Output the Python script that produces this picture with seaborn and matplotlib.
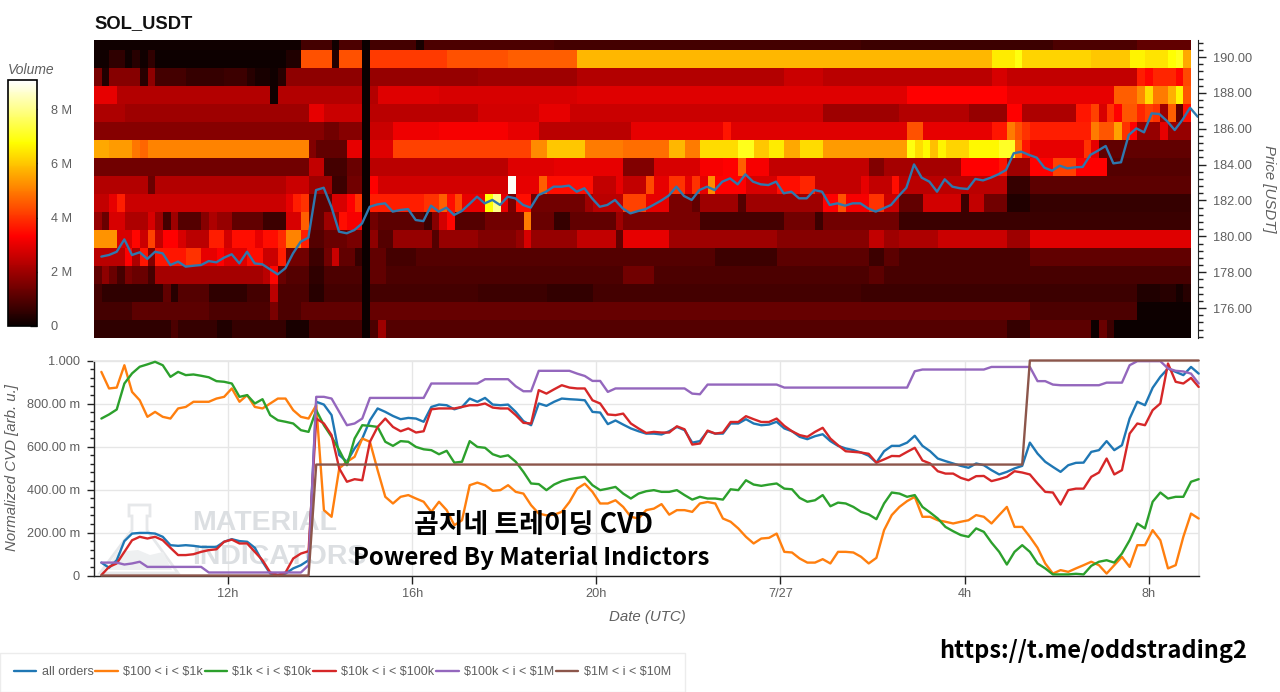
import numpy as np
import pandas as pd
import seaborn as sns
import matplotlib
matplotlib.use("Agg")
import matplotlib.pyplot as plt
from matplotlib.patches import Polygon
from matplotlib.ticker import MultipleLocator

# volume per price level: (last column, exclusive; volume in M)
row_190_9 = [(27, .1), (31, .8), (32, .1), (35, .9), (36, 0), (42, .8), (43, .2), (60, .9), (100, .8), (125, .7), (136, .9), (143, 1.2)]
row_189_9 = [(2, .1), (4, .5), (5, .1), (6, .4), (7, .1), (8, .5), (25, .05), (27, .3), (31, 4.4), (32, .3), (35, 4.4), (36, 0), (46, 4.1),
             (54, 4.4), (63, 4.6), (117, 5.8), (120, 6.5), (121, 6.9), (130, 6.2), (135, 6.0), (137, 6.6), (140, 6.4), (141, 6.8), (142, 7.0), (143, 5.6)]
row_188_9 = [(1, 1.5), (2, .3), (6, 1.7), (7, .4), (8, 1.8), (12, .8), (17, .6), (20, .7), (21, .4), (23, .2), (24, .1), (25, .4), (35, 1.8), (36, 0),
             (50, 1.9), (63, 2.0), (90, 2.3), (95, 2.6), (117, 2.4), (119, 2.8), (136, 2.5), (137, 3.7), (138, 3.4), (141, 3.8), (142, 3.4), (143, 4.3)]
row_187_9 = [(3, 3.0), (23, 2.3), (24, .1), (35, 2.3), (36, 0), (37, 2.3), (45, 2.9), (63, 2.8), (106, 2.9), (119, 3.3), (133, 3.0), (136, 4.6),
             (137, 5.2), (138, 6.3), (140, 5.0), (141, 5.7), (142, 6.6), (143, 4.5)]
row_186_9 = [(4, 2.2), (28, 2.0), (30, 3.0), (35, 2.6), (36, 0), (50, 2.4), (58, 2.7), (62, 3.0), (95, 2.6), (105, 2.0), (114, 2.3), (119, 1.9),
             (121, 3.3), (128, 2.2), (130, 3.6), (131, 4.2), (132, 2.8), (133, 4.0), (134, 3.3), (136, 4.5), (137, 3.8), (138, 4.2), (139, 4.0),
             (140, 2.0), (141, 4.6), (142, 1.2), (143, 3.5)]
row_185_9 = [(30, 1.7), (32, 1.4), (35, 1.7), (36, 0), (39, 2.6), (45, 3.1), (54, 3.2), (58, 3.0), (70, 2.4), (82, 3.0), (83, 3.6), (106, 2.9),
             (108, 4.4), (117, 3.0), (119, 3.6), (120, 5.0), (121, 4.4), (122, 4.0), (130, 3.7), (131, 5.0), (133, 4.5), (134, 5.5), (135, 4.0),
             (136, 3.3), (139, 1.9), (140, 3.0), (143, 1.9)]
row_184_9 = [(2, 5.6), (5, 5.4), (6, 4.9), (7, 4.7), (28, 5.1), (29, 1.6), (33, 1.2), (35, 3.0), (36, 0), (39, 2.9), (57, 4.2), (59, 5.2), (64, 6.0),
             (69, 5.0), (75, 4.8), (77, 5.8), (79, 5.0), (84, 6.3), (86, 7.0), (88, 6.0), (90, 6.5), (92, 5.6), (95, 6.3), (106, 5.4), (107, 6.9),
             (108, 6.3), (109, 6.7), (110, 5.9), (111, 6.6), (114, 6.2), (118, 6.7), (120, 7.1), (121, 4.8), (122, 3.6), (129, 3.0), (130, 4.0),
             (131, 3.0), (143, 1.2)]
row_183_9 = [(28, 1.4), (30, 2.5), (33, .8), (35, 1.3), (36, 0), (54, 2.4), (60, 2.9), (69, 3.0), (73, 1.6), (79, 2.8), (82, 3.2), (84, 3.3), (85, 4.6),
             (88, 3.2), (101, 2.5), (103, 1.6), (113, 2.1), (118, 3.3), (119, 3.6), (122, 2.0), (125, 3.3), (128, 4.2), (132, 3.3), (143, 1.0)]
row_182_9 = [(7, 2.3), (8, 1.3), (25, 2.3), (28, 2.6), (31, 2.0), (33, .7), (35, 1.4), (36, 0), (37, 3.3), (54, 2.7), (55, 9.0), (58, 3.0), (59, 4.6),
             (65, 3.5), (68, 2.5), (69, 3.0), (72, 2.5), (73, 4.3), (75, 3.0), (77, 4.0), (78, 3.0), (79, 4.0), (80, 3.0), (81, 5.2), (85, 3.3),
             (89, 2.8), (92, 3.5), (94, 3.8), (100, 2.5), (101, 3.0), (104, 2.5), (105, 3.5), (119, 2.4), (122, .6), (143, 1.1)]
row_181_9 = [(2, 2.5), (3, 3.0), (4, 3.7), (25, 2.6), (26, 3.0), (27, 3.7), (28, 4.0), (31, 1.2), (33, 2.8), (34, 3.3), (35, 4.0), (36, 0), (43, 3.7),
             (45, 4.0), (46, 4.6), (47, 3.5), (48, 4.3), (51, 3.0), (52, 6.8), (53, 8.0), (54, 3.0), (55, 1.5), (57, 3.5), (64, 1.4), (65, 2.0),
             (69, 2.4), (72, 4.2), (75, 3.0), (78, 1.5), (79, 1.2), (84, 2.0), (85, 1.0), (95, 2.0), (97, 3.3), (98, 4.4), (101, 3.2), (103, 4.0),
             (105, 2.6), (108, 1.2), (113, 2.7), (114, .7), (116, 2.5), (119, 1.4), (122, .3), (143, .6)]
row_180_9 = [(1, 1.9), (2, 1.3), (4, 2.8), (7, 2.2), (8, 2.8), (9, 2.0), (10, .8), (11, 2.0), (14, 1.0), (15, 1.7), (16, 2.2), (18, 1.9), (22, 1.2),
             (25, .7), (27, 2.8), (28, 4.6), (30, 1.2), (32, 2.0), (33, 3.5), (35, 3.2), (36, 0), (37, 1.4), (43, 1.1), (44, .7), (45, 1.7), (46, 2.7),
             (47, 3.4), (51, 1.0), (56, 1.4), (57, 5.0), (60, 1.3), (62, .6), (68, 1.2), (69, 2.0), (79, 1.5), (90, .8), (94, 1.4), (95, .7),
             (105, 1.4), (143, .65)]
row_179_9 = [(3, 5.3), (5, 2.8), (6, 3.4), (7, 2.6), (8, 4.2), (9, 2.5), (11, 3.3), (12, 2.8), (15, 2.4), (17, 3.7), (18, 2.7), (21, 3.5), (22, 3.0),
             (24, 3.5), (25, 3.9), (27, 5.1), (28, 3.7), (30, 1.0), (33, 1.3), (35, 1.5), (36, 0), (37, 1.8), (39, 1.0), (44, 1.9), (45, 1.0), (50, 1.9),
             (55, 1.6), (56, 1.9), (57, 2.8), (63, 1.9), (68, 2.5), (69, 1.2), (75, 3.0), (89, 2.0), (101, 1.7), (103, 2.5), (105, 2.0), (110, 2.2),
             (119, 2.6), (122, 2.0), (143, 2.9)]
row_178_9 = [(4, 2.4), (5, 3.3), (6, 2.2), (7, 3.6), (8, 1.6), (12, 3.6), (14, 4.0), (16, 3.0), (17, 3.3), (20, 2.9), (22, 3.5), (24, 2.6), (25, 3.7),
             (28, 1.4), (30, .7), (31, 1.4), (32, 2.6), (34, 1.2), (35, .6), (36, 0), (38, 1.2), (42, .8), (81, 1.0), (89, .7), (101, 1.1), (103, .7),
             (105, 1.1), (122, .85), (143, 1.2)]
row_177_9 = [(1, 1.2), (2, 1.8), (3, 1.3), (4, .8), (5, 1.5), (7, 1.3), (8, .8), (22, 2.1), (23, 2.4), (24, 3.4), (25, 1.3), (28, 1.0), (30, .5), (35, .9),
             (36, 0), (38, 1.2), (69, .9), (73, 1.4), (101, .9), (103, 1.1), (143, .85)]
row_176_9 = [(1, .8), (9, .5), (10, 1.2), (11, .4), (15, 1.0), (20, .5), (23, .8), (24, 2.4), (28, .9), (30, .4), (35, .8), (36, 0), (50, .8), (59, .7),
             (65, .55), (100, .8), (136, .7), (139, .3), (141, .4), (142, .15), (143, .4)]
row_175_9 = [(5, .8), (15, 1.1), (23, .9), (24, 1.5), (27, .9), (35, 1.2), (36, 0), (122, 1.25), (136, .9), (143, .05)]
row_174_9 = [(10, .5), (11, .9), (16, .6), (18, .3), (25, .6), (28, .2), (35, .8), (36, 0), (37, .9), (38, 2.0), (119, 1.0), (122, .6), (130, 1.1),
             (131, .05), (132, 1.3), (133, .7), (143, .02)]

volume_rows = [row_190_9, row_189_9, row_188_9, row_187_9, row_186_9, row_185_9, row_184_9, row_183_9, row_182_9,
               row_181_9, row_180_9, row_179_9, row_178_9, row_177_9, row_176_9, row_175_9, row_174_9]

price = [178.87, 178.96, 179.14, 179.83, 178.96, 179.11, 178.74, 179.14, 179.05, 178.40,
         178.59, 178.31, 178.36, 178.40, 178.62, 178.55, 178.81, 179.00, 178.49, 179.14,
         178.49, 178.44, 178.16, 177.88, 178.22, 179.05, 179.70, 179.93, 182.58, 182.71,
         181.65, 180.26, 180.17, 180.35, 180.72, 181.65, 181.78, 181.84, 181.38, 181.47,
         181.52, 180.91, 180.85, 181.71, 181.38, 181.60, 181.19, 181.41, 181.80, 182.21,
         181.84, 182.03, 181.75, 182.21, 182.12, 181.75, 181.60, 182.30, 182.49, 182.77,
         182.77, 182.83, 182.49, 182.68, 182.12, 181.65, 181.75, 182.03, 181.56, 181.28,
         181.41, 181.52, 181.75, 181.99, 182.27, 182.77, 182.25, 182.03, 182.58, 182.77,
         182.58, 183.05, 183.23, 182.90, 183.46, 183.05, 182.90, 182.86, 183.05, 182.40,
         182.49, 182.12, 182.12, 182.58, 182.49, 181.75, 181.84, 181.71, 181.84, 181.84,
         181.56, 181.38, 181.56, 181.75, 182.25, 182.71, 184.01, 183.27, 183.05, 182.49,
         183.18, 182.77, 182.68, 182.64, 183.20, 183.12, 183.27, 183.46, 183.70, 184.63,
         184.72, 184.54, 184.39, 183.83, 183.66, 183.94, 183.79, 183.85, 183.87, 184.54,
         184.78, 185.04, 184.07, 184.13, 185.65, 186.02, 185.80, 186.86, 186.82, 186.43,
         185.93, 186.49, 187.17, 186.67]

# normalized CVD in milli-units, one value every 10 minutes
cvd_all = [60, 36, 71, 160, 195, 198, 198, 195, 180, 141,
           138, 141, 138, 133, 133, 133, 157, 169, 160, 157,
           129, 64, 9, 2, 9, 33, 48, 71, 808, 795,
           746, 560, 529, 591, 637, 722, 777, 761, 742, 727,
           733, 730, 715, 784, 795, 792, 773, 784, 823, 808,
           826, 795, 792, 795, 761, 718, 699, 800, 789, 808,
           823, 820, 818, 815, 761, 758, 704, 721, 702, 684,
           671, 660, 660, 656, 671, 691, 676, 618, 625, 671,
           660, 660, 707, 707, 727, 707, 699, 702, 715, 684,
           671, 645, 634, 648, 657, 625, 603, 591, 583, 572,
           557, 525, 578, 603, 603, 618, 650, 603, 578, 544,
           532, 521, 510, 501, 521, 513, 490, 470, 482, 498,
           510, 618, 567, 529, 505, 482, 513, 524, 525, 575,
           583, 625, 583, 606, 730, 808, 792, 873, 924, 963,
           947, 932, 970, 939]
cvd_100_1k = [947, 870, 874, 978, 854, 815, 738, 761, 738, 730,
              777, 784, 808, 808, 808, 823, 831, 870, 808, 839,
              784, 777, 800, 823, 823, 769, 738, 730, 792, 304,
              273, 498, 529, 552, 637, 622, 490, 366, 335, 366,
              374, 358, 343, 296, 343, 304, 234, 257, 420, 432,
              420, 394, 397, 420, 389, 381, 327, 288, 280, 283,
              296, 342, 404, 427, 389, 335, 335, 350, 319, 273,
              265, 304, 311, 332, 283, 304, 304, 296, 335, 342,
              335, 265, 250, 219, 180, 149, 172, 175, 195, 110,
              107, 79, 60, 60, 76, 56, 110, 110, 107, 87,
              56, 82, 211, 281, 319, 346, 366, 273, 273, 257,
              250, 242, 250, 257, 281, 273, 242, 281, 319, 226,
              226, 180, 129, 56, 9, 25, 17, 33, 48, 64,
              48, 9, 48, 87, 40, 141, 141, 211, 164, 33,
              48, 180, 288, 265]
cvd_1k_10k = [730, 749, 772, 893, 940, 971, 982, 994, 978, 924,
              947, 932, 935, 929, 922, 904, 901, 893, 831, 839,
              800, 820, 746, 722, 715, 707, 676, 668, 769, 699,
              645, 583, 513, 637, 699, 696, 691, 622, 603, 625,
              622, 598, 587, 583, 564, 580, 525, 529, 625, 598,
              594, 564, 552, 559, 529, 482, 428, 425, 397, 423,
              439, 448, 454, 459, 420, 397, 404, 412, 381, 358,
              381, 392, 397, 389, 389, 397, 374, 353, 366, 358,
              358, 353, 401, 397, 443, 423, 417, 423, 428, 404,
              401, 361, 343, 350, 374, 322, 339, 335, 319, 296,
              284, 262, 335, 386, 381, 366, 374, 319, 293, 265,
              226, 206, 188, 180, 219, 203, 153, 110, 51, 110,
              141, 110, 56, 33, 5, 5, 5, 8, 5, 45,
              64, 71, 60, 102, 164, 242, 219, 343, 386, 358,
              366, 366, 436, 448]
cvd_10k_100k = [2, 40, 56, 110, 164, 180, 172, 180, 164, 129,
                95, 95, 99, 110, 118, 122, 157, 167, 149, 149,
                110, 71, 14, 2, 14, 79, 102, 113, 730, 707,
                653, 498, 436, 448, 443, 622, 691, 730, 691, 671,
                684, 665, 671, 773, 777, 777, 777, 784, 792, 792,
                800, 781, 777, 777, 746, 710, 707, 862, 846, 866,
                885, 874, 870, 870, 815, 800, 749, 746, 753, 707,
                684, 663, 668, 665, 665, 694, 680, 609, 614, 674,
                660, 665, 714, 714, 741, 727, 714, 714, 730, 696,
                671, 653, 645, 668, 687, 637, 606, 578, 575, 572,
                566, 525, 540, 556, 555, 575, 594, 535, 521, 485,
                474, 474, 454, 443, 462, 463, 439, 448, 459, 485,
                479, 470, 428, 389, 386, 330, 397, 404, 404, 459,
                479, 544, 470, 490, 660, 707, 699, 769, 800, 986,
                901, 893, 919, 877]
cvd_100k_1m = ([60] * 3 + [51, 56, 64] + [40] * 8 + [14] * 13 + [48, 831, 831, 823, 761, 699, 707, 730] + [826] * 8 + [893] * 7
               + [913] * 4 + [880, 857, 857] + [952] * 5 + [939, 928, 905, 905, 854] + [870] * 10 + [846, 843] + [888] * 10
               + [874] * 17 + [950] + [958] * 9 + [970] * 6 + [904, 904, 888] + [885] * 6 + [897] * 3 + [978] + [997] * 4
               + [963, 952, 949, 939, 893])
cvd_1m_10m = [0] * 28 + [516] * 93 + [1000] * 23

series_labels = ["all orders", r"\$100 < i < \$1k", r"\$1k < i < \$10k", r"\$10k < i < \$100k", r"\$100k < i < \$1M", r"\$1M < i < \$10M"]
series_colors = ["#1f77b4", "#ff7f0e", "#2ca02c", "#d62728", "#9467bd", "#8c564b"]
time_ticks = [12, 16, 20, 24, 28, 32]
time_labels = ["12h", "16h", "20h", "7/27", "4h", "8h"]
price_ticks = [176, 178, 180, 182, 184, 186, 188, 190]
cvd_ticks = [0, 200, 400, 600, 800, 1000]
cvd_tick_labels = ["0", "200.00 m", "400.00 m", "600.00 m", "800.00 m", "1.000"]
volume_ticks = [0, 2, 4, 6, 8]
volume_labels = ["0", "2 M", "4 M", "6 M", "8 M"]

W, H = 1280, 692
GREY = "#5f5f5f"


def add_ax(fig, left, top, right, bottom):
    return fig.add_axes([left / W, 1 - bottom / H, (right - left) / W, (bottom - top) / H])


def expand(runs):
    vals, start = [], 0
    for end, vol in runs:
        vals += [vol] * (end - start)
        start = end
    return vals


sns.set_theme(style="white")
plt.rcParams["font.family"] = ["Liberation Sans", "DejaVu Sans"]

fig = plt.figure(figsize=(W / 100, H / 100), dpi=100, facecolor="white")

ax_heat = add_ax(fig, 94, 40, 1191, 338)
cax = add_ax(fig, 8, 80, 37, 326)
ax_price = add_ax(fig, 94, 40, 1198, 338)
ax_cvd = add_ax(fig, 94, 360.5, 1199, 575.5)

# heatmap, top row is only partly inside the plot
volume = pd.DataFrame([expand(r) for r in volume_rows])
sns.heatmap(volume, ax=ax_heat, cbar_ax=cax, cmap="hot", vmin=0, vmax=9.08,
            xticklabels=False, yticklabels=False, cbar_kws={"ticks": volume_ticks})
ax_heat.set_ylim(17, 0.44)

cbar = ax_heat.collections[0].colorbar
cbar.set_ticklabels(volume_labels)
cbar.ax.tick_params(direction="in", length=5, width=1, color="#222222", labelsize=9.2, labelcolor=GREY, pad=10, right=True)
cbar.outline.set_edgecolor("black")
cbar.outline.set_linewidth(1.2)
cbar.outline.set_visible(True)

# price on top of the heatmap
hours = 9.25 + np.arange(len(price)) / 6
ax_price.patch.set_alpha(0)
sns.lineplot(x=hours, y=price, ax=ax_price, color="#2f78ae", linewidth=1.7, errorbar=None)
ax_price.set_xlim(9.09, 33.09)
ax_price.set_ylim(174.33, 190.95)
ax_price.xaxis.set_visible(False)
ax_price.yaxis.tick_right()
ax_price.yaxis.set_label_position("right")
ax_price.set_yticks(price_ticks)
ax_price.set_yticklabels([f"{p:.2f}" for p in price_ticks])
ax_price.yaxis.set_minor_locator(MultipleLocator(0.4))
ax_price.tick_params(axis="y", which="major", length=6, width=1, color="#222222", labelsize=9.2, labelcolor=GREY, pad=5, right=True, left=False)
ax_price.tick_params(axis="y", which="minor", length=3.5, width=1, color="#222222", right=True, left=False)
ax_price.set_ylabel("Price [USDT]", rotation=270, fontsize=10.8, style="italic", color=GREY, labelpad=10)
ax_price.yaxis.set_label_coords(1.0 + 78 / 1104, 0.5)
for name in ["left", "top", "bottom"]:
    ax_price.spines[name].set_visible(False)
ax_price.spines["right"].set_color("#222222")
ax_price.spines["right"].set_linewidth(0.8)

# CVD lines
cvd_table = pd.DataFrame({"hours": hours, "all": cvd_all, "a": cvd_100_1k, "b": cvd_1k_10k, "c": cvd_10k_100k, "d": cvd_100k_1m, "e": cvd_1m_10m})
cvd_table.columns = ["hours"] + series_labels
cvd_long = cvd_table.melt(id_vars="hours", var_name="series", value_name="cvd")
sns.lineplot(data=cvd_long, x="hours", y="cvd", hue="series", hue_order=series_labels, palette=series_colors,
             ax=ax_cvd, linewidth=1.7, errorbar=None, zorder=3)
for line in ax_cvd.lines:
    line.set_clip_on(False)
ax_cvd.set_xlim(9.09, 33.09)
ax_cvd.set_ylim(0, 1000)
ax_cvd.set_xticks(time_ticks)
ax_cvd.set_xticklabels(time_labels)
ax_cvd.set_yticks(cvd_ticks)
ax_cvd.set_yticklabels(cvd_tick_labels)
ax_cvd.yaxis.set_minor_locator(MultipleLocator(40))
ax_cvd.grid(True, which="major", color="#e6e6e6", linewidth=1)
ax_cvd.set_axisbelow(True)
ax_cvd.tick_params(axis="x", which="major", bottom=True, length=6, width=1, color="#222222", labelsize=9.2, labelcolor=GREY, pad=3)
ax_cvd.tick_params(axis="y", which="major", left=True, length=5, width=1, color="#222222", labelsize=9.2, labelcolor=GREY, pad=5)
ax_cvd.tick_params(axis="y", which="minor", left=True, length=3, width=1, color="#222222")
ax_cvd.set_xlabel("Date (UTC)", fontsize=10.8, style="italic", color=GREY)
ax_cvd.xaxis.set_label_coords((647 - 94) / 1105, -(610 - 575.5) / 215, transform=ax_cvd.transAxes)
ax_cvd.set_ylabel("Normalized CVD [arb. u.]", fontsize=10.8, style="italic", color=GREY)
ax_cvd.yaxis.set_label_coords(-(94 - 19) / 1105, (575.5 - 468) / 215, transform=ax_cvd.transAxes)
for name in ["top", "right"]:
    ax_cvd.spines[name].set_color("#e6e6e6")
for name in ["left", "bottom"]:
    ax_cvd.spines[name].set_color("#222222")
    ax_cvd.spines[name].set_linewidth(1)

handles, labels = ax_cvd.get_legend_handles_labels()
ax_cvd.legend(handles, labels, loc="lower left", bbox_to_anchor=(0, 0), bbox_transform=fig.transFigure, ncols=6, fontsize=9,
              frameon=True, fancybox=False, edgecolor="#ececec", framealpha=1, labelcolor=GREY, handlelength=1.8, handletextpad=0.42,
              columnspacing=0.15, borderpad=1.1, borderaxespad=0)

# watermark behind the lines
flask = [(129, 505), (150, 505), (150, 516), (147, 516), (147, 530), (178, 573), (100, 573), (132, 530), (132, 516), (129, 516)]
liquid = [(117, 552), (138, 550), (150, 555), (163, 552), (172, 570), (106, 570)]
to_fig = lambda pts: [(x / W, 1 - y / H) for x, y in pts]
ax_cvd.add_patch(Polygon(to_fig(flask), closed=True, transform=fig.transFigure, facecolor="none", edgecolor="#e6e8ea", linewidth=2, zorder=1, clip_on=False))
ax_cvd.add_patch(Polygon(to_fig(liquid), closed=True, transform=fig.transFigure, facecolor="#eef0f1", edgecolor="none", zorder=1, clip_on=False))
for txt, y_px in [("MATERIAL", 523), ("INDICATORS", 557)]:
    ax_cvd.text(192 / W, 1 - y_px / H, txt, transform=fig.transFigure, fontsize=20.5, weight="bold", color="#dcdfe2", va="center", ha="left", zorder=1)

# texts pasted on the picture
fig.text(94 / W, 1 - 24 / H, "SOL_USDT", fontsize=13.2, weight="bold", color="#111111", va="center", ha="left")
fig.text(8 / W, 1 - 70 / H, "Volume", fontsize=10, style="italic", color=GREY, va="center", ha="left")
fig.text(534 / W, 1 - 525 / H, "곰지네 트레이딩 CVD", fontsize=19.4, weight="bold", color="black", va="center", ha="center", family=["Noto Sans CJK KR"])
fig.text(531 / W, 1 - 558 / H, "Powered By Material Indictors", fontsize=17.3, weight="bold", color="black", va="center", ha="center", family=["Noto Sans CJK KR"])
fig.text(1093 / W, 1 - 651 / H, "https://t.me/oddstrading2", fontsize=17, weight="bold", color="black", va="center", ha="center", family=["Noto Sans CJK KR"])

fig.savefig("out.png", dpi=100)
